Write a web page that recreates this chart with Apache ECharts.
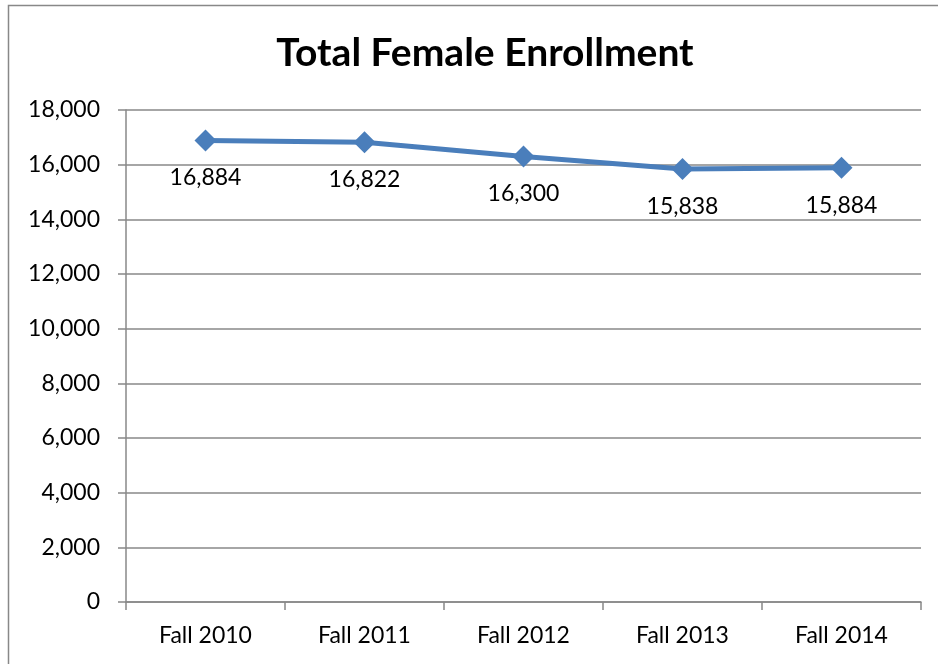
<!DOCTYPE html>
<html>
<head>
<meta charset="utf-8">
<script src="https://cdn.jsdelivr.net/npm/echarts@6/dist/echarts.min.js"></script>
<style>
  html, body { margin: 0; padding: 0; background: #fff; }
  #chart { width: 938px; height: 664px; }
</style>
</head>
<body>
<div id="chart"></div>
<script>
  const categories = ['Fall 2010', 'Fall 2011', 'Fall 2012', 'Fall 2013', 'Fall 2014'];
  const enrollment = [16884, 16822, 16300, 15838, 15884];
  const yTicks = { min: 0, max: 18000, interval: 2000 };

  const fontFam = 'Lato, "Open Sans", sans-serif';
  const gray = '#888888';

  const chart = echarts.init(document.getElementById('chart'));
  chart.setOption({
    animation: false,
    backgroundColor: '#fff',
    title: {
      text: 'Total Female Enrollment',
      left: 480,
      top: 29,
      textAlign: 'center',
      textStyle: { fontFamily: fontFam, fontSize: 39, fontWeight: 'bold', color: '#000' }
    },
    graphic: [{
      type: 'rect',
      shape: { x: 8.5, y: 5.5, width: 940, height: 670 },
      style: { fill: 'none', stroke: gray, lineWidth: 1.5 }
    }],
    grid: { left: 126, right: 17, top: 110, bottom: 62 },
    xAxis: {
      type: 'category',
      data: categories,
      boundaryGap: true,
      axisLine: { show: true, lineStyle: { color: gray, width: 1.5 } },
      axisTick: { show: true, length: 8, alignWithLabel: false, lineStyle: { color: gray, width: 1.5 } },
      axisLabel: { fontFamily: fontFam, fontSize: 23, color: '#000', margin: 22 }
    },
    yAxis: {
      type: 'value',
      min: yTicks.min,
      max: yTicks.max,
      interval: yTicks.interval,
      axisLine: { show: true, lineStyle: { color: gray, width: 1.5 } },
      axisTick: { show: true, length: 8, lineStyle: { color: gray, width: 1.5 } },
      axisLabel: {
        fontFamily: fontFam, fontSize: 23, color: '#000', margin: 26,
        formatter: v => v.toLocaleString('en-US')
      },
      splitLine: { show: true, lineStyle: { color: gray, width: 1.5 } }
    },
    series: [{
      type: 'line',
      data: enrollment,
      symbol: 'diamond',
      symbolSize: 22,
      itemStyle: { color: '#4a7ebb' },
      lineStyle: { color: '#4a7ebb', width: 5 },
      label: {
        show: true,
        position: 'bottom',
        distance: 15,
        fontFamily: fontFam,
        fontSize: 23,
        color: '#000',
        formatter: p => p.value.toLocaleString('en-US')
      }
    }]
  });
</script>
</body>
</html>
